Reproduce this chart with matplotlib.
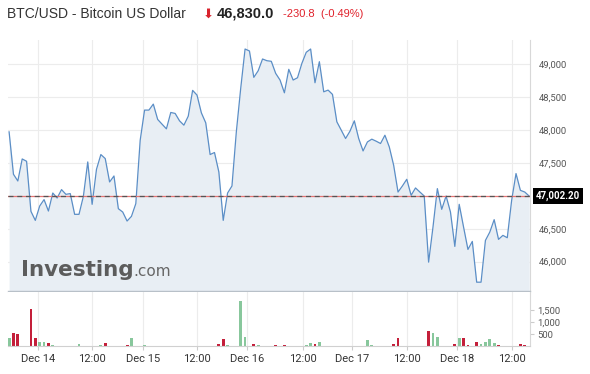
import matplotlib.pyplot as plt
import matplotlib.transforms as mtransforms
import numpy as np

# 1時間足の終値 (Dec 13 17:00 ~ Dec 18 16:00)
prices = [
    47973, 47328, 47226, 47561, 47526, 46764, 46627, 46845, 46943, 46769,
    47043, 46967, 47095, 47023, 47034, 46719, 46719, 46993, 47516, 46871,
    47404, 47628, 47567, 47211, 47302, 46805, 46754, 46617, 46688, 46882,
    47846, 48304, 48304, 48395, 48162, 48090, 48019, 48268, 48253, 48141,
    48075, 48212, 48604, 48532, 48262, 48110, 47628, 47659, 47363, 46627,
    47043, 47150, 47973, 48634, 49233, 49203, 48802, 48902, 49081, 49055,
    49046, 48863, 48761, 48567, 48924, 48761, 48796, 49015, 49183, 49233,
    48720, 49040, 48582, 48608, 48543, 48126, 48000, 47872, 47983, 48141,
    47872, 47683, 47820, 47862, 47831, 47796, 47922, 47744, 47465, 47058,
    47150, 47252, 47008, 47120, 47058, 46997, 45992, 46525, 47110, 46795,
    46997, 46754, 46231, 46871, 46525, 46185, 46307, 45687, 45687, 46322,
    46449, 46638, 46338, 46399, 46363, 46932, 47339, 47084, 47058, 46997,
]

# 出来高
volumes = [
    320, 528, 486, 0, 0, 1560, 320, 150, 180, 110,
    40, 0, 0, 0, 0, 0, 100, 0, 0, 20,
    20, 50, 110, 0, 0, 0, 0, 30, 350, 0,
    0, 40, 0, 0, 0, 0, 0, 0, 0, 0,
    0, 0, 0, 0, 0, 0, 0, 0, 70, 280,
    30, 0, 0, 1875, 390, 0, 70, 30, 0, 0,
    0, 30, 20, 30, 0, 0, 0, 0, 40, 140,
    100, 150, 0, 0, 0, 0, 0, 0, 0, 0,
    0, 0, 240, 50, 0, 0, 0, 0, 70, 320,
    0, 20, 0, 0, 0, 0, 625, 555, 390, 0,
    0, 0, 80, 320, 350, 30, 0, 180, 100, 170,
    290, 140, 30, 0, 0, 0, 0, 70, 60, 0,
]

tick_pos = [6.7, 19.0, 30.6, 42.9, 54.5, 67.2, 78.4, 91.0, 102.5, 115.1]
tick_labels = ["Dec 14", "12:00", "Dec 15", "12:00", "Dec 16",
               "12:00", "Dec 17", "12:00", "Dec 18", "12:00"]
price_ticks = [46000, 46500, 47500, 48000, 48500, 49000]
vol_ticks = [500, 1000, 1500]
last_close = 47002.20

title = "BTC/USD - Bitcoin US Dollar"
quote = "46,830.0"
change = "-230.8  (-0.49%)"

# 色
LINE = "#5b8ec6"
FILL = "#e8eef4"
GRID = "#ececec"
UP = "#88c79c"
DOWN = "#c41f3a"
TXT = "#333333"

W, H = 590, 374
fig = plt.figure(figsize=(W / 100, H / 100), dpi=100)


def fx(px):
    return px / W


def fy(py):
    return 1 - py / H


ax = fig.add_axes([fx(8), fy(291), fx(530) - fx(8), fy(40) - fy(291)])
axv = fig.add_axes([fx(8), fy(346), fx(530) - fx(8), fy(292) - fy(346)])

x = np.arange(len(prices))
ymin, ymax = 45553, 49370

"""価格チャート"""
ax.fill_between(x, prices, ymin, color=FILL, lw=0, zorder=1)
ax.plot(x, prices, color=LINE, lw=0.9, zorder=3)
ax.axhline(last_close, color="#e57373", lw=0.9, zorder=4)
ax.axhline(last_close, color="#555555", lw=0.9, dashes=(4, 3), zorder=5)
ax.set_xlim(-0.25, 119.2)
ax.set_ylim(ymin, ymax)

ax.set_xticks(tick_pos)
ax.set_xticklabels([])
ax.tick_params(axis="x", length=0)
ax.yaxis.tick_right()
ax.set_yticks(price_ticks)
ax.set_yticklabels([f"{v:,}" for v in price_ticks], fontsize=6.8,
                   color="#555555", family="Roboto")
ax.tick_params(axis="y", length=0, pad=6)
ax.grid(True, color=GRID, lw=0.8, zorder=0)
ax.set_axisbelow(True)
for side in ["left", "top"]:
    ax.spines[side].set_visible(False)
ax.spines["right"].set_color("#d8d8d8")
ax.spines["bottom"].set_color("#b8c0c8")
ax.spines["bottom"].set_linewidth(1.0)

# 最終値ラベル
trans = mtransforms.blended_transform_factory(ax.transAxes, ax.transData)
ax.text(1.012, last_close, f"{last_close:,.2f}", transform=trans,
        ha="left", va="center", color="white", fontsize=7,
        fontweight="bold", family="Roboto",
        bbox=dict(boxstyle="square,pad=0.3", fc="black", ec="none"))

"""出来高"""
colors = [UP] + [UP if prices[i] >= prices[i - 1] else DOWN
                 for i in range(1, len(prices))]
axv.bar(x, volumes, width=0.65, color=colors, lw=0, zorder=2)
axv.set_xlim(-0.25, 119.2)
axv.set_ylim(0, 2250)
axv.set_xticks(tick_pos)
axv.set_xticklabels(tick_labels, fontsize=8, color=TXT, family="Roboto")
axv.tick_params(axis="x", length=3, color="#cccccc", pad=3)
axv.yaxis.tick_right()
axv.set_yticks(vol_ticks)
axv.set_yticklabels([f"{v:,}" for v in vol_ticks], fontsize=6.8,
                    color="#555555", family="Roboto")
axv.tick_params(axis="y", length=3, color="#cccccc", pad=2)
axv.grid(True, axis="x", color=GRID, lw=0.8, zorder=0)
axv.set_axisbelow(True)
for side in ["left", "top"]:
    axv.spines[side].set_visible(False)
axv.spines["right"].set_color("#d8d8d8")
axv.spines["bottom"].set_color("#d0d0d0")

"""ヘッダー"""
fig.text(fx(7), fy(14), title, fontsize=10, color=TXT,
         family="Liberation Sans", va="center")
fig.text(fx(203), fy(14), "\u2b07", fontsize=9.5, color="#d9232d",
         family="DejaVu Sans", va="center")
fig.text(fx(217), fy(14), quote, fontsize=10.5, color="#222222",
         family="Liberation Sans", fontweight="bold", va="center")
fig.text(fx(283), fy(14), change, fontsize=8, color="#e0212b",
         family="Liberation Sans", va="center")

# ロゴ
fig.text(fx(21), fy(276), "Investing", fontsize=15.5, color="#5c5c5c",
         family="DejaVu Sans", fontweight="heavy", va="baseline")
fig.text(fx(133), fy(276), ".com", fontsize=11, color="#666666",
         family="DejaVu Sans", va="baseline")

fig.savefig("out.png", dpi=100)
